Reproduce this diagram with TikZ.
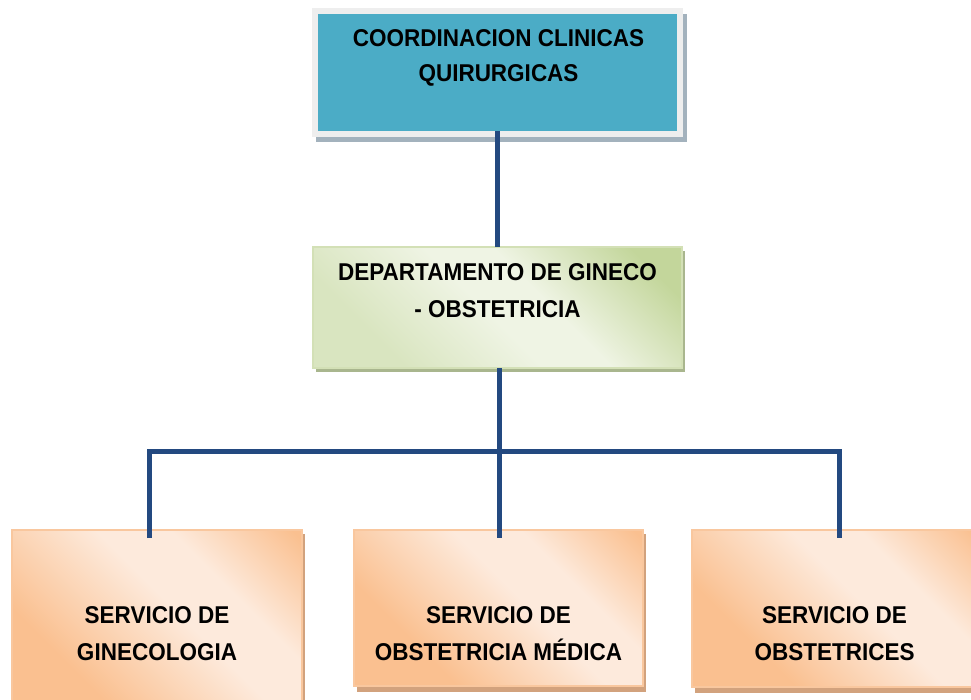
\documentclass[tikz,border=0pt]{standalone}
\usepackage{fontspec}
\setmainfont{Liberation Sans}
\definecolor{lineblue}{RGB}{35,73,128}
\definecolor{topblue}{HTML}{4BACC6}
\definecolor{framegrey}{HTML}{EEEEEE}
\definecolor{topshadow}{HTML}{A3B2BD}
\definecolor{gD}{HTML}{C3D69B}
\definecolor{gM}{HTML}{D9E5C0}
\definecolor{gL}{HTML}{EFF4E4}
\definecolor{gBorder}{HTML}{D3E0B6}
\definecolor{gShadow}{HTML}{A9B68E}
\definecolor{orD}{HTML}{FAC090}
\definecolor{orL}{HTML}{FDEADC}
\definecolor{orBorder}{HTML}{F9C79E}
\definecolor{orShadow}{HTML}{D2A27D}
\pgfdeclarehorizontalshading{orsh}{100bp}{color(0bp)=(orD); color(31bp)=(orD); color(55bp)=(orL); color(66bp)=(orL); color(84bp)=(orD); color(100bp)=(orD)}
\pgfdeclarehorizontalshading{grsh}{100bp}{color(0bp)=(gM); color(28bp)=(gM); color(48bp)=(gL); color(58bp)=(gL); color(78bp)=(gD); color(100bp)=(gD)}
\newcommand{\tallbox}[1]{\scalebox{1}[1.08]{#1}}
\tikzset{
  txt/.style={anchor=base, inner sep=0pt, font=\fontsize{22.5}{27}\selectfont\bfseries, text=black},
  topbox/.style={rectangle, fill=topblue, draw=framegrey, line width=6pt, inner sep=0pt, outer sep=0pt},
  midbox/.style={rectangle, shading=grsh, shading angle=45, draw=gBorder, line width=1.2pt, inner sep=0pt, outer sep=0pt},
  botbox/.style={rectangle, shading=orsh, shading angle=45, draw=orBorder, line width=1.5pt, inner sep=0pt, outer sep=0pt},
  conn/.style={draw=lineblue, line width=5pt, line join=miter}
}
\begin{document}
\begin{tikzpicture}[x=1pt,y=-1pt]
\clip (0,0) rectangle (971,700);
\fill[white] (0,0) rectangle (971,700);
% shadows
\fill[topshadow] (316,14) rectangle (687,142);
\fill[gShadow] (316,251) rectangle (685,372);
\fill[orShadow] (15,534) rectangle (305,724);
\fill[orShadow] (357,534) rectangle (646,692);
\fill[orShadow] (695,534) rectangle (985,693);
% boxes
\node[topbox, minimum width=365pt, minimum height=123pt] (top) at (497.5,72.5) {};
\node[midbox, minimum width=369pt, minimum height=121pt] (mid) at (497.5,307.5) {};
\node[botbox, minimum width=290pt, minimum height=190pt] (b1) at (157,625) {};
\node[botbox, minimum width=289pt, minimum height=156pt] (b2) at (498.5,608) {};
\node[botbox, minimum width=290pt, minimum height=157pt] (b3) at (837,608.5) {};
% texts
\node[txt] (t1) at (498.5,47) {\tallbox{COORDINACION CLINICAS}};
\node[txt] (t2) at (498.5,82) {\tallbox{QUIRURGICAS}};
\node[txt] (m1) at (497.5,281) {\tallbox{DEPARTAMENTO DE GINECO}};
\node[txt] (m2) at (497.5,318) {\tallbox{- OBSTETRICIA}};
\node[txt] (l1) at (157,623) {\tallbox{SERVICIO DE}};
\node[txt] (l2) at (157,660) {\tallbox{GINECOLOGIA}};
\node[txt] (c1) at (498.5,623) {\tallbox{SERVICIO DE}};
\node[txt] (c2) at (498.5,660) {\tallbox{OBSTETRICIA MÉDICA}};
\node[txt] (r1) at (834.5,623) {\tallbox{SERVICIO DE}};
\node[txt] (r2) at (834.5,660) {\tallbox{OBSTETRICES}};
% connectors
\coordinate (trunk) at (499.5,451.5);
\coordinate (jl) at (149,451.5);
\coordinate (jr) at (839.5,451.5);
\draw[conn, shorten <=-3pt] (top.south) -- (mid.north);
\draw[conn, shorten >=-8pt] (mid.south -| trunk) -- (b2.north -| trunk);
\draw[conn, shorten <=-8pt, shorten >=-8pt] (b1.north -| jl) -- (jl) -- (jr) -- (b3.north -| jr);
\end{tikzpicture}
\end{document}
